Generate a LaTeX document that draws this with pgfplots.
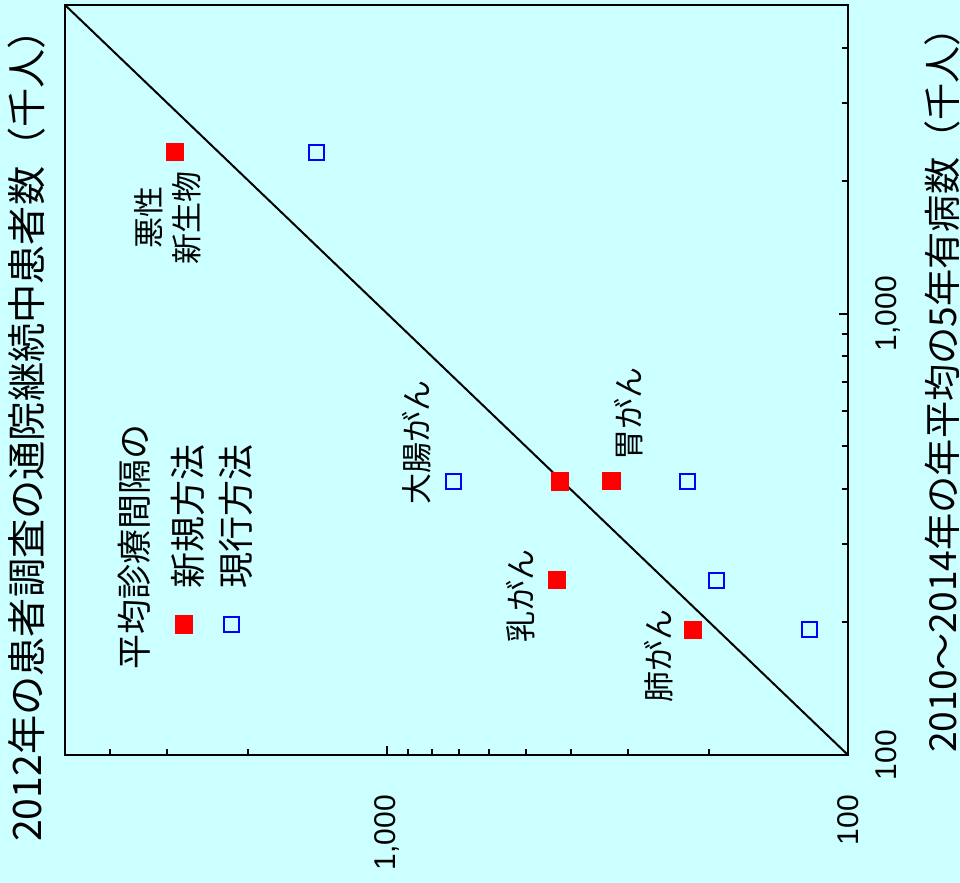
\documentclass[border=0pt]{standalone}
\usepackage{graphicx}
\usepackage{fontspec}
\setmainfont{Liberation Sans}
\newfontfamily\jp{Noto Sans CJK JP}
\usepackage{pgfplots}
\pgfplotsset{compat=1.18}
\definecolor{bg}{RGB}{204,255,255}
\begin{document}
\begin{tikzpicture}
\path[use as bounding box, fill=bg] (0,0) rectangle (960bp,883bp);
\begin{axis}[
  at={(65bp,128bp)}, anchor=south west,
  scale only axis, width=783bp, height=750bp,
  xmode=log, ymode=log, x dir=reverse,
  xmin=100, xmax=5000, ymin=100, ymax=5000,
  axis line style={line width=2bp},
  every tick/.style={black, line width=2bp},
  major tick length=9bp, minor tick length=6bp,
  tick align=inside,
  xtick={100,1000}, xticklabels={100,{1,000}},
  ytick={100,1000}, yticklabels={100,{1,000}},
  minor xtick={200,300,400,500,600,700,800,900,2000,3000,4000},
  minor ytick={200,300,400,500,600,700,800,900,2000,3000,4000},
  xtick pos=lower, ytick pos=right,
  xticklabel pos=lower, yticklabel pos=right,
  xticklabel style={rotate=90, anchor=east, inner sep=0pt, font=\fontsize{30bp}{30bp}\selectfont},
  yticklabel style={rotate=90, anchor=north, inner sep=0pt, font=\fontsize{30bp}{30bp}\selectfont},
  xticklabel shift=40bp, yticklabel shift=27bp,
  legend columns=2,
  legend style={at={(axis cs:2973,234)}, anchor=south west,
    draw=none, fill=none, inner sep=0pt, outer sep=0pt,
    font=\jp\fontsize{36bp}{36bp}\selectfont,
    /tikz/column sep=0pt,
    /tikz/every even column/.style={column sep=10.5bp},
    cells={anchor=base west, inner sep=0pt}},
  legend image code/.code={\draw[#1, overlay] plot coordinates {(15bp,-36bp)};},
]
\addplot[only marks, mark=square*, mark size=8.75bp, color=red,
  mark options={draw=red, fill=red, line width=0pt}] coordinates {
  (2889,2323) (422,416) (326,418) (428,249) (217,192)};
\addlegendentry{\rotatebox{90}{新規方法}}
\addplot[only marks, mark=square, mark size=7.5bp, color=blue,
  mark options={draw=blue, line width=2bp}] coordinates {
  (1424,2317) (716,417) (223,417) (193,249) (121,192)};
\addlegendentry{\rotatebox{90}{現行方法}}
\addplot[black, line width=2bp, forget plot] coordinates {(100,100) (5000,5000)};
\end{axis}
\begin{scope}[every node/.style={rotate=90, inner sep=0pt}]
\node[anchor=west, font=\jp\fontsize{39.2bp}{39.2bp}\selectfont] at (27bp,41bp) {2012年の患者調査の通院継続中患者数（千人）};
\node[anchor=west, font=\jp\fontsize{37.2bp}{37.2bp}\selectfont] at (942bp,130bp) {2010～2014年の年平均の5年有病数（千人）};
\node[anchor=west, font=\jp\fontsize{35bp}{35bp}\selectfont] at (134bp,213bp) {平均診療間隔の};
\node[align=center, font=\jp\fontsize{31bp}{38bp}\selectfont] at (168bp,665bp) {悪性\\新生物};
\node[font=\jp\fontsize{31bp}{31bp}\selectfont] at (417bp,440bp) {大腸がん};
\node[font=\jp\fontsize{31bp}{31bp}\selectfont] at (629bp,469bp) {胃がん};
\node[font=\jp\fontsize{31bp}{31bp}\selectfont] at (521bp,287bp) {乳がん};
\node[font=\jp\fontsize{31bp}{31bp}\selectfont] at (659bp,227bp) {肺がん};
\end{scope}
\end{tikzpicture}
\end{document}
